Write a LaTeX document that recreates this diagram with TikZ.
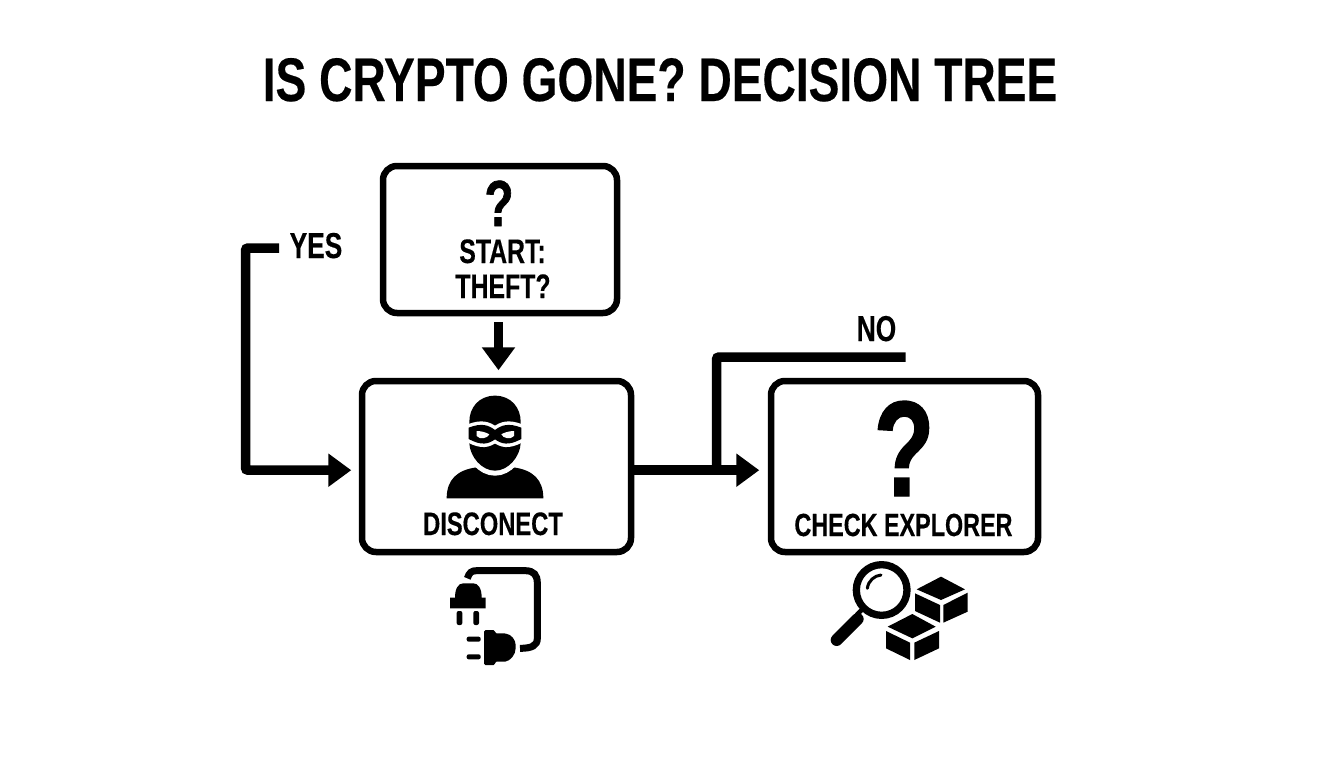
\documentclass[tikz,border=0pt]{standalone}
\usepackage{fontspec}
\usetikzlibrary{arrows.meta}
\setmainfont{Liberation Sans}
\newfontfamily\titlefam[FakeStretch=0.75,BoldFeatures={FakeBold=0.3}]{Liberation Sans}
\newfontfamily\markfam[FakeStretch=0.73,BoldFeatures={FakeBold=1}]{Liberation Sans}
\newfontfamily\lblfam[FakeStretch=0.73,BoldFeatures={FakeBold=0.3}]{Liberation Sans}
\tikzset{
  x=1pt,y=-1pt,
  flowbox/.style={draw=black,line width=6.5pt,rounded corners=14pt,fill=white,inner sep=0pt,minimum width=#1},
  link/.style={draw=black,line width=9.5pt,rounded corners=2.5pt},
  arrowlink/.style={link,-{Triangle[length=23pt,width=32pt,inset=0pt]},shorten >=7.5pt},
  lbl/.style={font=\fontsize{#1}{#1}\selectfont\lblfam\bfseries,anchor=base,inner sep=0pt,text=black},
  qmark/.style={font=\fontsize{#1}{#1}\selectfont\markfam\bfseries,anchor=base,inner sep=0pt,text=black},
  icon/.style={shift={(#1)},scale=0.33333},
}
\begin{document}
\begin{tikzpicture}
\useasboundingbox (0,0) rectangle (1344,768);
\node[anchor=base,inner sep=0pt,font=\fontsize{61.5}{61.5}\selectfont\titlefam\bfseries] (title) at (660,101) {IS CRYPTO GONE? DECISION TREE};

% boxes
\node[flowbox=234pt,minimum height=147pt] (start) at (500,239.5) {};
\node[flowbox=269pt,minimum height=171pt] (disc) at (496.5,466.5) {};
\node[flowbox=267pt,minimum height=171pt] (check) at (904.5,466.5) {};

% box texts
\node[qmark=65] (q1) at (499,226) {?};
\node[lbl=34] (t1) at (502.5,263) {START:};
\node[lbl=34] (t2) at (503,298) {THEFT?};
\node[lbl=32.5] (t3) at (493,535) {DISCONECT};
\node[lbl=32] (t4) at (903.5,536) {CHECK EXPLORER};
\node[qmark=136] (q2) at (904,496) {?};
\node[lbl=36] (yes) at (316,258) {YES};
\node[lbl=36] (no) at (876.5,341) {NO};

% connectors
\coordinate (yesend) at (279,248);
\coordinate (yescorner) at (245.5,248);
\coordinate (noend) at (905.7,357);
\coordinate (nocorner) at (716.5,357);
\coordinate (inleft) at ([yshift=-3.7pt]disc.west);
\coordinate (outright) at ([yshift=-3.7pt]disc.east);
\coordinate (incheck) at ([yshift=-3.7pt]check.west);
\draw[arrowlink,shorten <=6pt] ([xshift=-1.5pt]start.south) -- ([xshift=2pt]disc.north);
\draw[arrowlink] (yesend) -- (yescorner) -- (yescorner |- inleft) -- (inleft);
\draw[arrowlink,shorten >=8.5pt] (outright) -- (incheck);
\draw[link] (noend) -- (nocorner) -- (nocorner |- outright);

% thief
\begin{scope}[icon={420,380}]
  \fill[black] (80,355) .. controls (80,300) and (110,270) .. (170,262) -- (280,262) .. controls (340,270) and (370,300) .. (370,355) -- cycle;
  \def\headpath{(225,47) .. controls (275,47) and (302,85) .. (302,125) -- (302,190) .. controls (300,230) and (265,272) .. (225,272) .. controls (185,272) and (150,230) .. (148,190) -- (148,125) .. controls (148,85) and (175,47) .. (225,47) -- cycle}
  \draw[white,line width=10pt] \headpath;
  \fill[black] \headpath;
  \def\maskpath{(146,143) .. controls (185,128) and (205,135) .. (225,150) .. controls (245,135) and (265,128) .. (304,143) -- (304,177) .. controls (265,198) and (245,192) .. (225,178) .. controls (205,192) and (185,198) .. (146,177) -- cycle}
  \draw[white,line width=7pt] \maskpath;
  \fill[black] \maskpath;
  \fill[white] (170,153) .. controls (185,153) and (200,158) .. (208,163) .. controls (203,175) and (180,180) .. (170,168) -- cycle;
  \fill[white] (282,153) .. controls (267,153) and (252,158) .. (244,163) .. controls (249,175) and (272,180) .. (282,168) -- cycle;
\end{scope}

% plug and cable
\begin{scope}[icon={430,555}]
  \draw[black,line width=7pt] (112,70) .. controls (118,52) and (125,47) .. (140,47) -- (285,47) .. controls (312,47) and (322,60) .. (322,85) -- (322,250) .. controls (322,272) and (305,280) .. (270,280);
  \fill[black] (60,128) -- (75,128) .. controls (75,100) and (85,85) .. (100,85) -- (130,85) .. controls (145,85) and (155,100) .. (155,128) -- (167,128) -- (167,160) -- (60,160) -- cycle;
  \fill[black,rounded corners=2pt] (80,168) rectangle (97,210);
  \fill[black,rounded corners=2pt] (130,168) rectangle (147,210);
  \fill[black,rounded corners=1.5pt] (162,225) -- (195,225) -- (195,235) -- (222,235) .. controls (245,238) and (257,255) .. (257,275) .. controls (257,300) and (240,318) .. (222,320) -- (195,320) -- (195,330) -- (162,330) -- cycle;
  \fill[black,rounded corners=2pt] (110,245) rectangle (152,260);
  \fill[black,rounded corners=2pt] (110,298) rectangle (152,313);
\end{scope}

% magnifier and blocks
\begin{scope}[icon={815,550}]
  \draw[black,line width=7.3pt] (200,120) circle[radius=76];
  \draw[black,line width=3pt,line cap=round] (198,75) .. controls (178,77) and (160,92) .. (157,115);
  \draw[black,line width=4.5pt] (150,170) -- (125,195);
  \draw[black,line width=12pt,line cap=round] (128,207) -- (65,270);
  \fill[black] (378,80) -- (450,118) -- (378,150) -- (305,118) -- cycle;
  \fill[black] (300,130) -- (375,165) -- (375,218) -- (300,183) -- cycle;
  \fill[black] (385,165) -- (458,128) -- (458,185) -- (385,218) -- cycle;
  \def\toppath{(292,192) -- (362,230) -- (292,265) -- (218,230) -- cycle}
  \draw[white,line width=6pt,line join=miter] \toppath;
  \fill[black] \toppath;
  \fill[black] (213,243) -- (285,278) -- (285,330) -- (213,295) -- cycle;
  \fill[black] (298,278) -- (372,243) -- (372,295) -- (298,330) -- cycle;
\end{scope}
\end{tikzpicture}
\end{document}
